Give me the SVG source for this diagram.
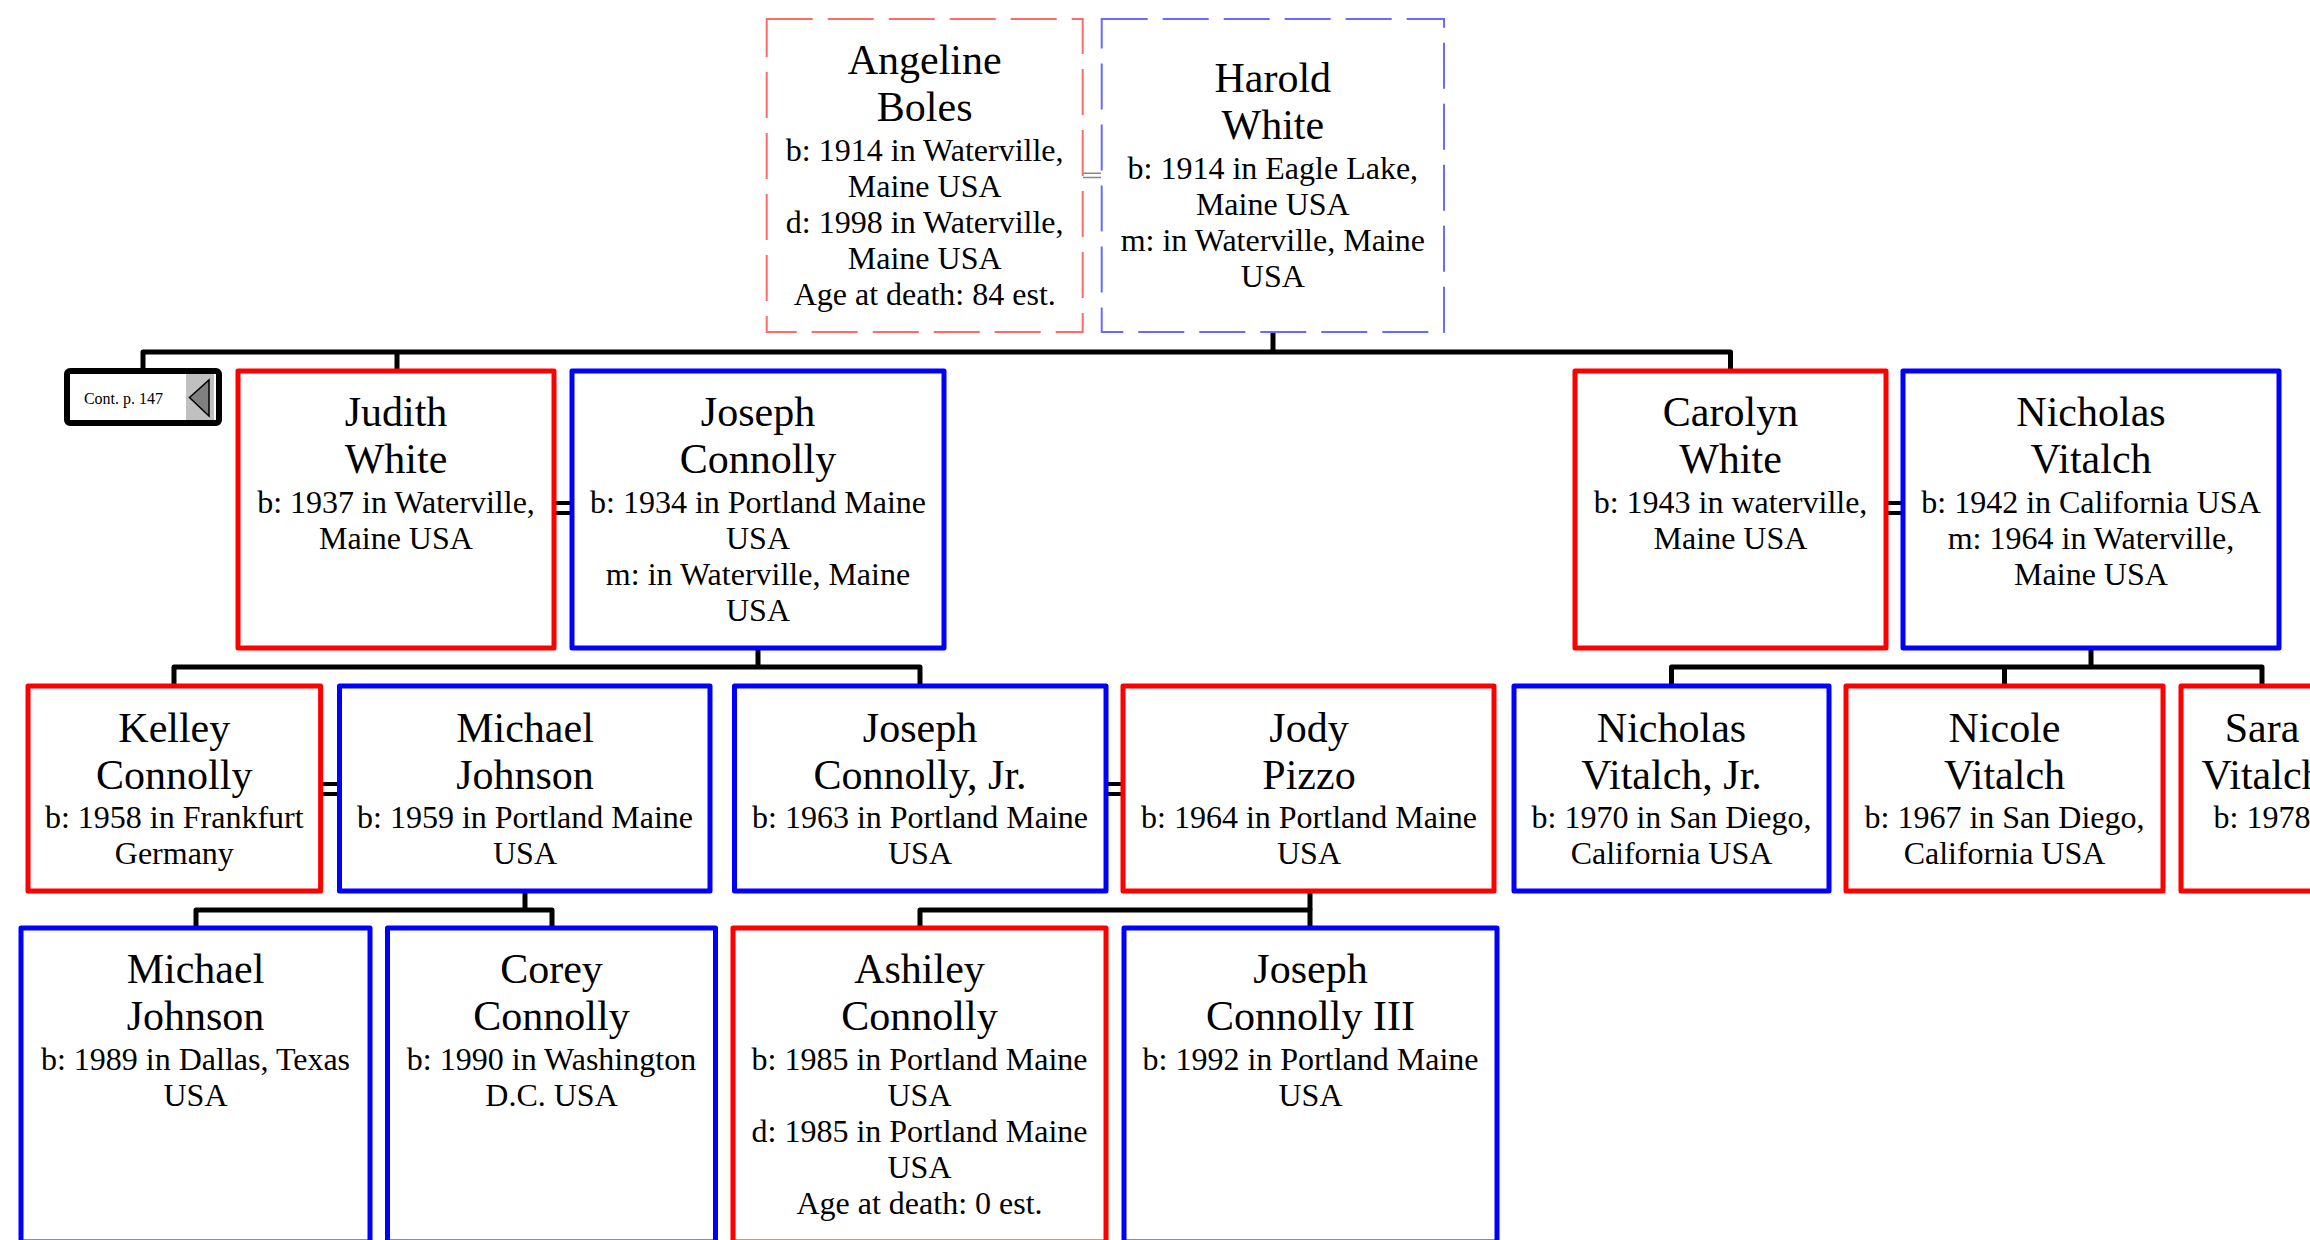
<svg xmlns="http://www.w3.org/2000/svg" width="2310" height="1240" viewBox="0 0 2310 1240">
<style>
  .bg { fill: #ffffff; }
  .f { fill: #ffffff; stroke-width: 5; stroke-linejoin: round; }
  .fr { stroke: #ff0000; }
  .fb { stroke: #0000ff; }
  .dr { fill: #ffffff; stroke: #ff6a6a; stroke-width: 2; stroke-dasharray: 46 15; }
  .db { fill: #ffffff; stroke: #6a6aff; stroke-width: 2; stroke-dasharray: 46 15; }
  .t { font-family: "Liberation Serif", "Times New Roman", serif; fill: #000000; text-anchor: middle; }
  .n { font-size: 42px; }
  .d { font-size: 32px; }
  .c { fill: none; stroke: #000000; stroke-width: 5; stroke-linejoin: round; stroke-linecap: butt; }
  .m { fill: none; stroke: #000000; stroke-width: 4; }
  .mg { fill: none; stroke: #888888; stroke-width: 1.5; }
</style>
<rect class="bg" x="0" y="0" width="2310" height="1240"/>

<g id="connectors">
  <!-- top family -->
  <path class="c" d="M1273,331 V352"/>
  <path class="c" d="M143,371 V352 H1730.5 V371"/>
  <path class="c" d="M397,352 V371"/>
  <!-- Joseph & Judith children -->
  <path class="c" d="M758,648 V667"/>
  <path class="c" d="M174,686 V667 H920 V686"/>
  <!-- Nicholas & Carolyn children -->
  <path class="c" d="M2091,648 V667"/>
  <path class="c" d="M1671.5,686 V667 H2262 V686"/>
  <path class="c" d="M2004.5,667 V686"/>
  <!-- Michael & Kelley children -->
  <path class="c" d="M525,891 V910"/>
  <path class="c" d="M196,928 V910 H552 V928"/>
  <!-- Jody & Joseph Jr children -->
  <path class="c" d="M1310,891 V910"/>
  <path class="c" d="M920,928 V910 H1310 V928"/>
  <!-- marriage marks -->
  <path class="mg" d="M1083,173.3 H1101 M1083,177.5 H1101"/>
  <path class="m" d="M555,503 H571 M555,513 H571"/>
  <path class="m" d="M1887,503 H1902 M1887,513 H1902"/>
  <path class="m" d="M321,784 H339 M321,794 H339"/>
  <path class="m" d="M1107,784 H1122 M1107,794 H1122"/>
</g>

<g id="cont-p147">
  <rect x="67" y="371" width="152" height="52" rx="3" fill="#ffffff" stroke="#000000" stroke-width="6"/>
  <rect x="186" y="374" width="28" height="46" fill="#c0c0c0"/>
  <polygon points="189.5,397.5 209,380 209,416" fill="#808080" stroke="#000000" stroke-width="1.5" stroke-linejoin="miter"/>
  <text class="t" x="123.5" y="404" font-size="16">Cont. p. 147</text>
</g>

<g id="angeline-boles">
  <rect class="dr" x="766.7" y="19" width="316" height="313"/>
  <text class="t"><tspan class="n" x="924.7" y="74">Angeline</tspan><tspan class="n" x="924.7" y="121">Boles</tspan><tspan class="d" x="924.7" y="161">b: 1914 in Waterville,</tspan><tspan class="d" x="924.7" y="197">Maine USA</tspan><tspan class="d" x="924.7" y="233">d: 1998 in Waterville,</tspan><tspan class="d" x="924.7" y="269">Maine USA</tspan><tspan class="d" x="924.7" y="305">Age at death: 84 est.</tspan></text>
</g>

<g id="harold-white">
  <rect class="db" x="1101.7" y="19" width="342.3" height="313"/>
  <text class="t"><tspan class="n" x="1272.8" y="92">Harold</tspan><tspan class="n" x="1272.8" y="139">White</tspan><tspan class="d" x="1272.8" y="179">b: 1914 in Eagle Lake,</tspan><tspan class="d" x="1272.8" y="215">Maine USA</tspan><tspan class="d" x="1272.8" y="251">m: in Waterville, Maine</tspan><tspan class="d" x="1272.8" y="287">USA</tspan></text>
</g>

<g id="judith-white">
  <rect class="f fr" x="238" y="371" width="316" height="277"/>
  <text class="t"><tspan class="n" x="396" y="426">Judith</tspan><tspan class="n" x="396" y="473">White</tspan><tspan class="d" x="396" y="513">b: 1937 in Waterville,</tspan><tspan class="d" x="396" y="549">Maine USA</tspan></text>
</g>

<g id="joseph-connolly">
  <rect class="f fb" x="572" y="371" width="372" height="277"/>
  <text class="t"><tspan class="n" x="758" y="426">Joseph</tspan><tspan class="n" x="758" y="473">Connolly</tspan><tspan class="d" x="758" y="513">b: 1934 in Portland Maine</tspan><tspan class="d" x="758" y="549">USA</tspan><tspan class="d" x="758" y="585">m: in Waterville, Maine</tspan><tspan class="d" x="758" y="621">USA</tspan></text>
</g>

<g id="carolyn-white">
  <rect class="f fr" x="1575" y="371" width="311" height="277"/>
  <text class="t"><tspan class="n" x="1730.5" y="426">Carolyn</tspan><tspan class="n" x="1730.5" y="473">White</tspan><tspan class="d" x="1730.5" y="513">b: 1943 in waterville,</tspan><tspan class="d" x="1730.5" y="549">Maine USA</tspan></text>
</g>

<g id="nicholas-vitalch">
  <rect class="f fb" x="1903" y="371" width="376" height="277"/>
  <text class="t"><tspan class="n" x="2091" y="426">Nicholas</tspan><tspan class="n" x="2091" y="473">Vitalch</tspan><tspan class="d" x="2091" y="513">b: 1942 in California USA</tspan><tspan class="d" x="2091" y="549">m: 1964 in Waterville,</tspan><tspan class="d" x="2091" y="585">Maine USA</tspan></text>
</g>

<g id="kelley-connolly">
  <rect class="f fr" x="28" y="686" width="292.6" height="205"/>
  <text class="t"><tspan class="n" x="174.3" y="742">Kelley</tspan><tspan class="n" x="174.3" y="789">Connolly</tspan><tspan class="d" x="174.3" y="828">b: 1958 in Frankfurt</tspan><tspan class="d" x="174.3" y="864">Germany</tspan></text>
</g>

<g id="michael-johnson">
  <rect class="f fb" x="339.5" y="686" width="370.5" height="205"/>
  <text class="t"><tspan class="n" x="525" y="742">Michael</tspan><tspan class="n" x="525" y="789">Johnson</tspan><tspan class="d" x="525" y="828">b: 1959 in Portland Maine</tspan><tspan class="d" x="525" y="864">USA</tspan></text>
</g>

<g id="joseph-connolly-jr">
  <rect class="f fb" x="734.5" y="686" width="371.5" height="205"/>
  <text class="t"><tspan class="n" x="920" y="742">Joseph</tspan><tspan class="n" x="920" y="789">Connolly, Jr.</tspan><tspan class="d" x="920" y="828">b: 1963 in Portland Maine</tspan><tspan class="d" x="920" y="864">USA</tspan></text>
</g>

<g id="jody-pizzo">
  <rect class="f fr" x="1123" y="686" width="371" height="205"/>
  <text class="t"><tspan class="n" x="1309" y="742">Jody</tspan><tspan class="n" x="1309" y="789">Pizzo</tspan><tspan class="d" x="1309" y="828">b: 1964 in Portland Maine</tspan><tspan class="d" x="1309" y="864">USA</tspan></text>
</g>

<g id="nicholas-vitalch-jr">
  <rect class="f fb" x="1514" y="686" width="315" height="205"/>
  <text class="t"><tspan class="n" x="1671.5" y="742">Nicholas</tspan><tspan class="n" x="1671.5" y="789">Vitalch, Jr.</tspan><tspan class="d" x="1671.5" y="828">b: 1970 in San Diego,</tspan><tspan class="d" x="1671.5" y="864">California USA</tspan></text>
</g>

<g id="nicole-vitalch">
  <rect class="f fr" x="1846" y="686" width="317" height="205"/>
  <text class="t"><tspan class="n" x="2004.5" y="742">Nicole</tspan><tspan class="n" x="2004.5" y="789">Vitalch</tspan><tspan class="d" x="2004.5" y="828">b: 1967 in San Diego,</tspan><tspan class="d" x="2004.5" y="864">California USA</tspan></text>
</g>

<g id="sara-vitalch">
  <rect class="f fr" x="2181" y="686" width="162" height="205"/>
  <text class="t"><tspan class="n" x="2262" y="742">Sara</tspan><tspan class="n" x="2262" y="789">Vitalch</tspan><tspan class="d" x="2262" y="828">b: 1978</tspan></text>
</g>

<g id="michael-johnson-2">
  <rect class="f fb" x="21" y="928" width="349" height="314"/>
  <text class="t"><tspan class="n" x="195.5" y="983">Michael</tspan><tspan class="n" x="195.5" y="1030">Johnson</tspan><tspan class="d" x="195.5" y="1070">b: 1989 in Dallas, Texas</tspan><tspan class="d" x="195.5" y="1106">USA</tspan></text>
</g>

<g id="corey-connolly">
  <rect class="f fb" x="387.5" y="928" width="328" height="314"/>
  <text class="t"><tspan class="n" x="551.5" y="983">Corey</tspan><tspan class="n" x="551.5" y="1030">Connolly</tspan><tspan class="d" x="551.5" y="1070">b: 1990 in Washington</tspan><tspan class="d" x="551.5" y="1106">D.C. USA</tspan></text>
</g>

<g id="ashiley-connolly">
  <rect class="f fr" x="733" y="928" width="373" height="314"/>
  <text class="t"><tspan class="n" x="919.5" y="983">Ashiley</tspan><tspan class="n" x="919.5" y="1030">Connolly</tspan><tspan class="d" x="919.5" y="1070">b: 1985 in Portland Maine</tspan><tspan class="d" x="919.5" y="1106">USA</tspan><tspan class="d" x="919.5" y="1142">d: 1985 in Portland Maine</tspan><tspan class="d" x="919.5" y="1178">USA</tspan><tspan class="d" x="919.5" y="1214">Age at death: 0 est.</tspan></text>
</g>

<g id="joseph-connolly-iii">
  <rect class="f fb" x="1124" y="928" width="373" height="314"/>
  <text class="t"><tspan class="n" x="1310.5" y="983">Joseph</tspan><tspan class="n" x="1310.5" y="1030">Connolly III</tspan><tspan class="d" x="1310.5" y="1070">b: 1992 in Portland Maine</tspan><tspan class="d" x="1310.5" y="1106">USA</tspan></text>
</g>
</svg>
